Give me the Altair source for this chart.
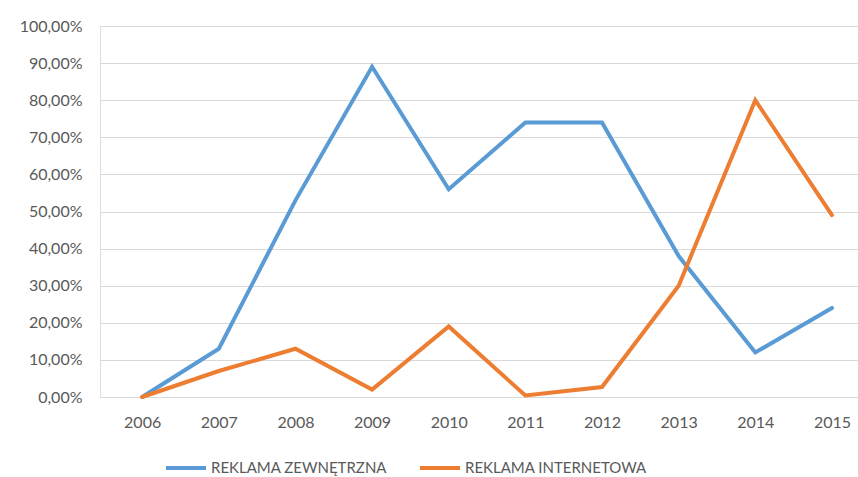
import altair as alt
import pandas as pd

years = [2006, 2007, 2008, 2009, 2010, 2011, 2012, 2013, 2014, 2015]
zewnetrzna = [0.0, 13.0, 53.0, 89.0, 56.0, 74.0, 74.0, 38.0, 12.0, 24.0]
internetowa = [0.0, 7.0, 13.0, 2.0, 19.0, 0.4, 2.7, 30.0, 80.0, 49.0]
series_names = ["REKLAMA ZEWNĘTRZNA", "REKLAMA INTERNETOWA"]
colors = ["#5B9BD5", "#ED7D31"]

rows = []
for name, vals in zip(series_names, [zewnetrzna, internetowa]):
    for y, v in zip(years, vals):
        rows.append({"rok": y, "udzial": v / 100.0, "seria": name})
df = pd.DataFrame(rows)

font = "Lato"
label_color = "#595959"

chart = (
    alt.Chart(df)
    .mark_line(strokeWidth=4, strokeCap="round", strokeJoin="miter")
    .encode(
        x=alt.X(
            "rok:Q",
            scale=alt.Scale(domain=[2005.45, 2015.34], nice=False, zero=False),
            axis=alt.Axis(
                values=years,
                format="d",
                title=None,
                grid=False,
                domain=False,
                ticks=False,
                labelPadding=17,
                labelFontSize=16,
                labelColor=label_color,
                labelFont=font,
            ),
        ),
        y=alt.Y(
            "udzial:Q",
            scale=alt.Scale(domain=[0, 1], nice=False),
            axis=alt.Axis(
                values=[i / 10 for i in range(11)],
                labelExpr="replace(format(datum.value * 100, '.2f'), '.', ',') + '%'",
                title=None,
                domain=False,
                ticks=False,
                gridColor="#D9D9D9",
                gridWidth=1.2,
                labelPadding=18,
                labelFontSize=16,
                labelColor=label_color,
                labelFont=font,
            ),
        ),
        color=alt.Color(
            "seria:N",
            scale=alt.Scale(domain=series_names, range=colors),
            sort=series_names,
            legend=alt.Legend(
                title=None,
                orient="none",
                direction="horizontal",
                legendX=64,
                legendY=420,
                symbolType="stroke",
                symbolStrokeWidth=4,
                symbolSize=1600,
                labelFontSize=15,
                labelColor=label_color,
                labelFont=font,
                labelLimit=400,
                columnPadding=24,
                labelOffset=3,
            ),
        ),
    )
    .properties(
        width=758,
        height=371,
        autosize=alt.AutoSizeParams(type="none"),
        padding={"left": 100, "top": 26, "right": 0, "bottom": 80},
    )
    .configure_view(stroke=None)
    .configure(background="white")
)

chart.save("out.html", embed_options={"renderer": "svg", "actions": False})
